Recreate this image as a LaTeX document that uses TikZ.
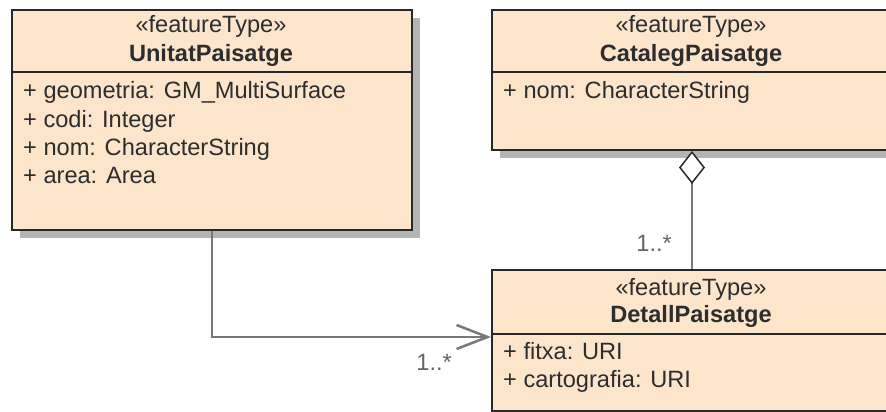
\documentclass[tikz,border=0pt]{standalone}
\usepackage{fontspec}
\setmainfont{Liberation Sans}
\usepackage{tikz}
\usetikzlibrary{arrows.meta,positioning,shadows}

\definecolor{boxfill}{RGB}{253,229,204}
\definecolor{boxline}{RGB}{40,40,40}
\definecolor{shadowgray}{RGB}{180,180,180}
\definecolor{linkgray}{RGB}{120,120,120}
\definecolor{textgray}{RGB}{45,45,45}
\definecolor{multgray}{RGB}{100,100,100}

\begin{document}
\begin{tikzpicture}[x=1pt,y=-1pt,
    every node/.style={inner sep=0pt,text=textgray,font=\fontsize{23.6}{28}\selectfont},
    classbox/.style={draw=boxline,line width=2pt,fill=boxfill,anchor=north west,
      minimum width=400pt,
      drop shadow={shadow xshift=8pt,shadow yshift=-8pt,fill=shadowgray,opacity=1}},
    stereo/.style={anchor=base},
    classname/.style={anchor=base,font=\fontsize{23.6}{28}\selectfont\bfseries},
    attr/.style={anchor=base west},
    sepline/.style={draw=boxline,line width=2pt},
    mult/.style={anchor=base east,text=multgray},
    assoc/.style={draw=linkgray,line width=2.5pt,-{Straight Barb[length=31pt,width=24pt]}},
    aggr/.style={draw=linkgray,line width=2.5pt,
      -{Diamond[length=33pt,width=26pt,fill=white,color=boxline,line width=1.5pt]}}
  ]

  \useasboundingbox (0,0) rectangle (886,412);
  \clip (0,0) rectangle (886,412);

  % UnitatPaisatge
  \node[classbox,minimum height=220pt] (unitat) at (11,9) {};
  \draw[sepline] (unitat.north west) ++(0,63) -- ++(400,0);
  \node[stereo] (unitat-st) at (211,33) {«featureType»};
  \node[classname] (unitat-nm) at (211,62) {UnitatPaisatge};
  \foreach \txt [count=\i] in {+ geometria: GM\_MultiSurface, + codi: Integer,
      + nom: CharacterString, + area: Area}
    \node[attr] (unitat-a\i) at (23,71+28*\i) {\txt};

  % CatalegPaisatge
  \node[classbox,minimum height=140pt] (cataleg) at (491,9) {};
  \draw[sepline] (cataleg.north west) ++(0,63) -- ++(400,0);
  \node[stereo] (cataleg-st) at (691,33) {«featureType»};
  \node[classname] (cataleg-nm) at (691,62) {CatalegPaisatge};
  \node[attr] (cataleg-a1) at (503,99) {+ nom: CharacterString};

  % DetallPaisatge
  \node[classbox,minimum height=141pt] (detall) at (491,269) {};
  \draw[sepline] (detall.north west) ++(0,65) -- ++(400,0);
  \node[stereo] (detall-st) at (691,295) {«featureType»};
  \node[classname] (detall-nm) at (691,322) {DetallPaisatge};
  \node[attr] (detall-a1) at (503,359) {+ fitxa: URI};
  \node[attr] (detall-a2) at (503,387) {+ cartografia: URI};

  % associations
  \coordinate (detall-in) at (491,337);
  \draw[assoc] (unitat.south) |- (detall-in);
  \draw[aggr] (detall.north) -- (cataleg.south);

  % multiplicities
  \node[mult] (mult-in) at (452,370) {1..*};
  \node[mult] (mult-cat) at (672,251) {1..*};

\end{tikzpicture}
\end{document}
